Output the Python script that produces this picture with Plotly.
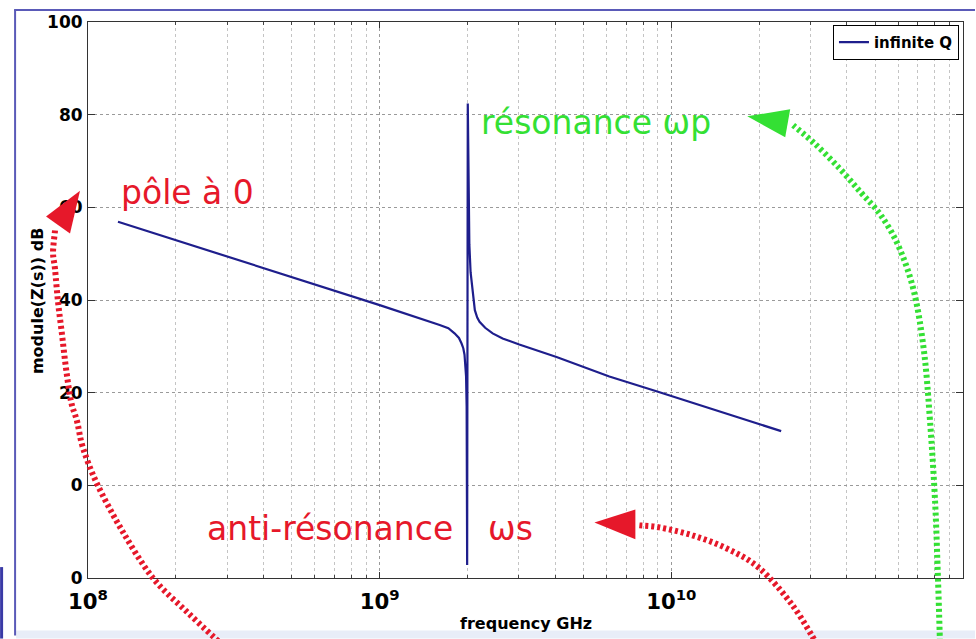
import plotly.graph_objects as go

# Impedance magnitude of a resonator (infinite Q), read point by point
freq_hz = [1.267e8, 3.0e8, 5.32e8, 1.0e9, 1.606e9, 1.72e9, 1.806e9, 1.87e9,
           1.909e9, 1.935e9, 1.954e9, 1.968e9, 1.978e9, 1.987e9, 1.995e9,
           2.005e9, 2.03e9, 2.05e9, 2.08e9, 2.12e9, 2.16e9, 2.2e9, 2.3e9,
           2.44e9, 2.64e9, 3.01e9, 4.04e9, 6.13e9, 8.89e9, 1.277e10, 2.38e10]
z_db = [56.9, 49.4, 44.5, 38.9, 34.6, 33.9, 32.8, 31.8,
        30.6, 29.6, 28.2, 26.3, 23.5, 17.0, -17.2,
        82.4, 52.0, 46.0, 41.7, 37.8, 36.2, 35.3, 34.0,
        32.8, 31.7, 30.4, 27.7, 23.5, 20.3, 17.1, 11.7]

y_ticks = [-20, 0, 20, 40, 60, 80, 100]
y_tick_text = ["0", "0", "20", "40", "60", "80", "100"]

W, H = 976, 639
L, R, T, B = 88, 12, 18, 61
PW, PH = W - L - R, H - T - B


def px(x, y):
    """Pixel position -> paper coordinates."""
    return (x - L) / PW, 1 - (y - T) / PH


def smooth_path(points):
    pts = [px(*p) for p in points]
    d = f"M{pts[0][0]:.5f},{pts[0][1]:.5f}"
    n = len(pts)
    for i in range(n - 1):
        p0 = pts[i - 1] if i > 0 else pts[i]
        p1, p2 = pts[i], pts[i + 1]
        p3 = pts[i + 2] if i + 2 < n else p2
        c1 = (p1[0] + (p2[0] - p0[0]) / 6, p1[1] + (p2[1] - p0[1]) / 6)
        c2 = (p2[0] - (p3[0] - p1[0]) / 6, p2[1] - (p3[1] - p1[1]) / 6)
        d += (f" C{c1[0]:.5f},{c1[1]:.5f} {c2[0]:.5f},{c2[1]:.5f}"
              f" {p2[0]:.5f},{p2[1]:.5f}")
    return d


def tri_path(a, b, c):
    pa, pb, pc = px(*a), px(*b), px(*c)
    return (f"M{pa[0]:.5f},{pa[1]:.5f} L{pb[0]:.5f},{pb[1]:.5f} "
            f"L{pc[0]:.5f},{pc[1]:.5f} Z")


RED = "#e6182a"
GREEN = "#34e034"

fig = go.Figure()
fig.add_trace(go.Scatter(
    x=freq_hz, y=z_db, mode="lines", name="infinite Q",
    line=dict(color="#1e1e8c", width=2.2),
))

shapes = []
# curved dotted pointers
for pts, col in [
    ([(55, 228), (53, 250), (55, 267), (58, 300), (62, 333), (66, 367),
      (71, 400), (77, 420), (83, 447), (97, 483), (122, 530), (153, 578),
      (188, 613), (222, 645)], RED),
    ([(640, 525), (660, 527), (693, 535), (727, 548), (760, 568),
      (793, 605), (818, 645)], RED),
    ([(794, 122), (815, 140), (840, 165), (862, 190), (882, 213),
      (900, 245), (915, 290), (925, 350), (931, 420), (936, 500),
      (939, 580), (941, 645)], GREEN),
]:
    shapes.append(dict(type="path", xref="paper", yref="paper",
                       path=smooth_path(pts), layer="above",
                       line=dict(color=col, width=6, dash="3px,3px")))
# arrow heads
for tri, col in [
    (((80, 188), (46, 214), (70, 231)), RED),
    (((595, 522), (636, 509), (636, 539)), RED),
    (((748, 113), (791, 106), (786, 134)), GREEN),
]:
    shapes.append(dict(type="path", xref="paper", yref="paper",
                       path=tri_path(*tri), layer="above",
                       fillcolor=col, line=dict(width=0)))

# outer blue frame
fx0, fy0 = px(14, 6)
fx1, fy1 = px(976, 6)
shapes.append(dict(type="line", xref="paper", yref="paper",
                   x0=fx0, y0=fy0, x1=fx1, y1=fy1,
                   line=dict(color="#5a5ab8", width=2)))
lx, ly = px(15, 636)
shapes.append(dict(type="line", xref="paper", yref="paper",
                   x0=lx, y0=fy0, x1=lx, y1=ly,
                   line=dict(color="#5a5ab8", width=2)))
bx0, by0 = px(16, 631)
bx1, by1 = px(976, 639)
shapes.append(dict(type="rect", xref="paper", yref="paper",
                   x0=bx0, y0=by0, x1=bx1, y1=by1, layer="below",
                   fillcolor="#e8edf8", line=dict(width=0)))
sx0, sy0 = px(0, 567)
sx1, sy1 = px(3, 639)
shapes.append(dict(type="rect", xref="paper", yref="paper",
                   x0=sx0, y0=sy0, x1=sx1, y1=sy1,
                   fillcolor="#3a3aa6", line=dict(width=0)))

annotations = []
for text, (x, y), col in [
    ("pôle à 0", (119, 190), RED),
    ("résonance ωp", (479, 119), GREEN),
    ("anti-résonance", (205, 528), RED),
    ("ωs", (486, 528), RED),
]:
    ax, ay = px(x, y)
    annotations.append(dict(text=text, x=ax, y=ay, xref="paper", yref="paper",
                            xanchor="left", yanchor="middle", showarrow=False,
                            font=dict(family="DejaVu Sans", size=33, color=col)))

# axis titles
tx, ty = px(526, 624)
annotations.append(dict(text="frequency GHz", x=tx, y=ty, xref="paper",
                        yref="paper", xanchor="center", yanchor="middle",
                        showarrow=False,
                        font=dict(family="DejaVu Sans", size=16, color="black",
                                  weight="bold")))
yx, yy = px(38, 299)
annotations.append(dict(text="module(Z(s)) dB", x=yx, y=yy, xref="paper",
                        yref="paper", xanchor="center", yanchor="middle",
                        textangle=-90, showarrow=False,
                        font=dict(family="DejaVu Sans", size=16, color="black",
                                  weight="bold")))

tick_font = dict(family="DejaVu Sans", size=17, color="black", weight="bold")

fig.update_layout(
    width=W, height=H,
    margin=dict(l=L, r=R, t=T, b=B, pad=0),
    paper_bgcolor="white", plot_bgcolor="white",
    showlegend=True,
    legend=dict(x=0.9954, y=0.995, xanchor="right", yanchor="top",
                bgcolor="white", bordercolor="black", borderwidth=1,
                font=dict(family="DejaVu Sans", size=15, color="black",
                          weight="bold"),
                itemwidth=30),
    xaxis=dict(type="log", range=[8, 11], dtick=1, exponentformat="power",
               showexponent="all", ticks="inside", ticklen=6,
               tickcolor="#333", showline=True, linecolor="#333",
               linewidth=1, mirror="ticks", showgrid=True,
               gridcolor="#9a9a9a", griddash="dot", gridwidth=1,
               zeroline=False, tickfont=tick_font, ticklabelstandoff=5,
               minor=dict(dtick="D1", ticks="inside", ticklen=3,
                          tickcolor="#444", showgrid=True,
                          gridcolor="#c4c4c4", griddash="dot", gridwidth=1)),
    yaxis=dict(range=[-20, 100], tickvals=y_ticks, ticktext=y_tick_text,
               ticks="inside", ticklen=7, tickcolor="#333", showline=True,
               linecolor="#333", linewidth=1, mirror="ticks", showgrid=True,
               gridcolor="#9a9a9a", griddash="dot", gridwidth=1,
               zeroline=False, tickfont=tick_font, ticklabelstandoff=1),
    shapes=shapes,
    annotations=annotations,
)

fig.write_html("out.html")
